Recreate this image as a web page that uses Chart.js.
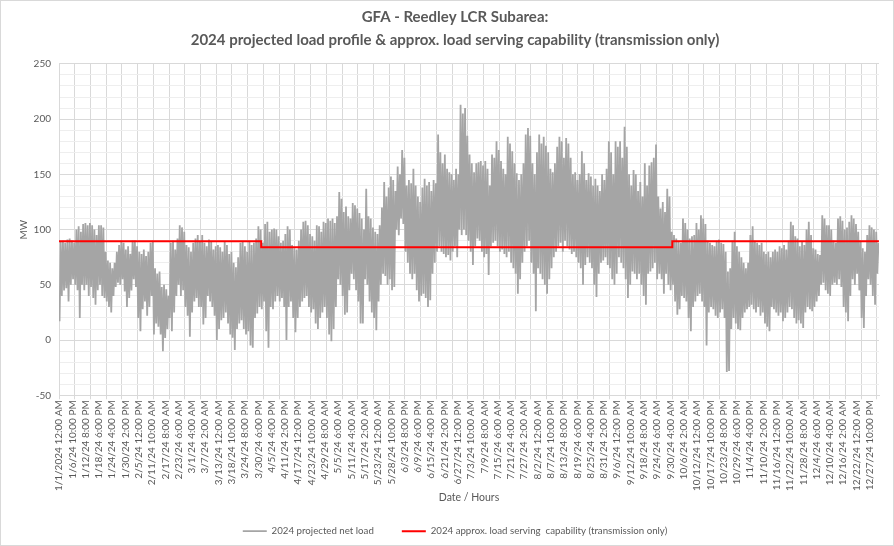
<!DOCTYPE html>
<html>
<head>
<meta charset="utf-8">
<script src="https://cdn.jsdelivr.net/npm/chart.js@4.4.1/dist/chart.umd.min.js"></script>
<style>
  html, body { margin: 0; padding: 0; background: #fff; }
  #wrap { width: 894px; height: 546px; position: relative; }
</style>
</head>
<body>
<div id="wrap"><canvas id="grafico"></canvas></div>
<script>
// x tick labels, one every 142 hours
const tickLabels = [
  "1/1/2024 12:00 AM", "1/6/24 10:00 PM", "1/12/24 8:00 PM", "1/18/24 6:00 PM", "1/24/24 4:00 PM",
  "1/30/24 2:00 PM", "2/5/24 12:00 PM", "2/11/24 10:00 AM", "2/17/24 8:00 AM", "2/23/24 6:00 AM",
  "3/1/24 4:00 AM", "3/7/24 2:00 AM", "3/13/24 12:00 AM", "3/18/24 10:00 PM", "3/24/24 8:00 PM",
  "3/30/24 6:00 PM", "4/5/24 4:00 PM", "4/11/24 2:00 PM", "4/17/24 12:00 PM", "4/23/24 10:00 AM",
  "4/29/24 8:00 AM", "5/5/24 6:00 AM", "5/11/24 4:00 AM", "5/17/24 2:00 AM", "5/23/24 12:00 AM",
  "5/28/24 10:00 PM", "6/3/24 8:00 PM", "6/9/24 6:00 PM", "6/15/24 4:00 PM", "6/21/24 2:00 PM",
  "6/27/24 12:00 PM", "7/3/24 10:00 AM", "7/9/24 8:00 AM", "7/15/24 6:00 AM", "7/21/24 4:00 AM",
  "7/27/24 2:00 AM", "8/2/24 12:00 AM", "8/7/24 10:00 PM", "8/13/24 8:00 PM", "8/19/24 6:00 PM",
  "8/25/24 4:00 PM", "8/31/24 2:00 PM", "9/6/24 12:00 PM", "9/12/24 10:00 AM", "9/18/24 8:00 AM",
  "9/24/24 6:00 AM", "9/30/24 4:00 AM", "10/6/24 2:00 AM", "10/12/24 12:00 AM", "10/17/24 10:00 PM",
  "10/23/24 8:00 PM", "10/29/24 6:00 PM", "11/4/24 4:00 PM", "11/10/24 2:00 PM", "11/16/24 12:00 PM",
  "11/22/24 10:00 AM", "11/28/24 8:00 AM", "12/4/24 6:00 AM", "12/10/24 4:00 AM", "12/16/24 2:00 AM",
  "12/22/24 12:00 AM", "12/27/24 10:00 PM"
];

// projected net load, daily high and low (MW)
const dailyPeakMW = [
  89, 90, 88, 91, 92, 90, 88, 100, 103, 98,
  105, 106, 104, 106, 104, 100, 95, 104, 104, 102,
  80, 72, 70, 65, 70, 80, 86, 90, 88, 82,
  85, 78, 90, 90, 85, 80, 78, 82, 76, 80,
  88, 90, 65, 60, 62, 48, 50, 46, 40, 88,
  90, 82, 92, 104, 102, 98, 86, 84, 80, 88,
  92, 95, 90, 95, 88, 85, 91, 89, 82, 85,
  86, 84, 80, 89, 86, 78, 80, 70, 66, 75,
  88, 89, 85, 80, 89, 86, 88, 92, 103, 100,
  88, 105, 107, 98, 100, 101, 100, 94, 88, 90,
  96, 103, 100, 86, 83, 82, 90, 100, 107, 108,
  104, 96, 94, 90, 104, 103, 98, 107, 106, 110,
  108, 110, 106, 112, 134, 128, 116, 121, 112, 110,
  124, 122, 119, 115, 110, 100, 137, 112, 110, 102,
  98, 96, 104, 120, 143, 130, 138, 148, 145, 135,
  157, 150, 172, 165, 140, 145, 142, 155, 140, 130,
  125, 138, 146, 140, 143, 135, 145, 142, 186, 170,
  160, 168, 155, 152, 150, 145, 155, 150, 213, 205,
  210, 185, 168, 160, 152, 160, 161, 162, 158, 162,
  155, 140, 168, 165, 180, 172, 162, 155, 150, 184,
  178, 171, 160, 151, 145, 150, 160, 186, 192, 185,
  160, 150, 170, 186, 178, 184, 176, 170, 155, 152,
  160, 175, 184, 180, 165, 183, 178, 165, 150, 152,
  145, 150, 171, 160, 145, 151, 148, 140, 146, 140,
  135, 150, 145, 155, 180, 170, 150, 180, 175, 180,
  165, 193, 175, 150, 140, 154, 150, 135, 143, 130,
  160, 140, 158, 161, 165, 177, 130, 119, 125, 116,
  137, 130, 98, 95, 92, 89, 88, 110, 106, 100,
  92, 94, 95, 106, 100, 113, 110, 105, 90, 88,
  86, 85, 90, 91, 88, 87, 80, 62, 65, 90,
  98, 85, 80, 75, 70, 65, 70, 95, 103, 90,
  88, 86, 88, 80, 78, 80, 75, 80, 82, 80,
  85, 83, 86, 82, 90, 107, 104, 94, 92, 85,
  89, 86, 100, 107, 95, 83, 82, 78, 77, 113,
  110, 104, 104, 100, 90, 88, 110, 112, 108, 100,
  102, 107, 113, 110, 105, 98, 90, 83, 80, 95,
  104, 102, 100, 98, 88
];
const dailyLowMW = [
  17, 40, 45, 47, 35, 50, 55, 50, 45, 20,
  50, 45, 50, 40, 48, 38, 32, 45, 50, 40,
  38, 35, 30, 25, 40, 48, 52, 50, 55, 44,
  30, 38, 45, 55, 48, 20, 8, 28, 35, 22,
  30, 40, 5, 15, 12, 5, -10, 2, 10, 20,
  8, 25, 40, 50, 40, 45, 30, 22, 3, 25,
  35, 38, 30, 30, 14, 20, 40, 35, 30, 22,
  0, 10, 18, 20, 25, 15, 5, 2, -9, 10,
  15, 18, 10, 5, 8, -5, -7, 20, 24, 30,
  28, 35, 8, -7, 30, 28, 35, 40, 35, 38,
  30, 0, 30, 35, 20, 7, 20, 30, 35, 38,
  40, 30, 25, 28, 15, 10, 20, 25, 30, 20,
  5, -1, 10, 30, 55, 50, 40, 23, 25, 45,
  60, 55, 45, 35, 15, 15, 55, 50, 35, 25,
  20, 9, 35, 50, 60, 58, 50, 55, 45, 48,
  100, 95, 110, 105, 80, 70, 60, 55, 60, 45,
  35, 40, 42, 38, 30, 36, 60, 70, 80, 85,
  80, 78, 75, 77, 72, 80, 85, 75, 100, 95,
  100, 95, 90, 80, 68, 85, 92, 90, 80, 75,
  78, 59, 85, 88, 90, 85, 80, 82, 78, 75,
  80, 70, 65, 60, 42, 55, 70, 80, 85, 90,
  70, 60, 26, 65, 60, 55, 50, 42, 55, 65,
  75, 80, 85, 88, 80, 90, 85, 82, 78, 80,
  75, 70, 65, 50, 68, 75, 70, 65, 50, 39,
  60, 70, 72, 75, 68, 65, 55, 50, 60, 75,
  70, 65, 55, 38, 50, 62, 60, 55, 60, 50,
  40, 32, 60, 62, 65, 70, 55, 60, 55, 42,
  60, 50, 45, 50, 35, 23, 28, 40, 38, 35,
  20, 8, 30, 35, 40, 42, 35, 30, -5, 25,
  30, 28, 22, 20, 25, 28, 20, -29, -28, 10,
  20, 15, 10, 9, 20, 25, 28, 30, 32, 28,
  25, 30, 22, 25, 15, 12, 8, 30, 28, 25,
  22, 25, 17, 20, 25, 30, 28, 20, 15, 18,
  15, 11, 25, 30, 28, 26, 30, 35, 40, 50,
  52, 45, 42, 40, 50, 52, 50, 55, 48, 30,
  25, 17, 40, 55, 50, 60, 45, 20, 11, 40,
  55, 50, 40, 32, 60
];

// approx. load serving capability (transmission only)
const capabilityHours = [0, 2160, 2160, 6552, 6552, 8759];
const capabilityMW = [89.4, 89.4, 84, 84, 89.4, 89.4];

const HOURS = 8760;
const LABEL_STEP = 142;
const GRID_STEP = 168;
const LOW_HOUR = 6;
const PEAK_HOUR = 18;

document.addEventListener("DOMContentLoaded", function () {
  const loadPoints = [];
  dailyPeakMW.forEach(function (peak, d) {
    loadPoints.push({ x: d * 24 + LOW_HOUR, y: dailyLowMW[d] });
    loadPoints.push({ x: d * 24 + PEAK_HOUR, y: peak });
  });
  const capPoints = capabilityHours.map(function (h, i) {
    return { x: h, y: capabilityMW[i] };
  });

  const font = "Lato, 'Liberation Sans', sans-serif";
  const textColor = "#595959";

  // thin frame around the whole chart
  const frame = {
    id: "frame",
    afterDraw(chart) {
      const c = chart.ctx;
      c.save();
      c.strokeStyle = "#d9d9d9";
      c.lineWidth = 1;
      c.strokeRect(0.5, 0.5, chart.width - 1, chart.height - 1);
      c.restore();
    },
  };

  const ctx = document.getElementById("grafico").getContext("2d");
  new Chart(ctx, {
    type: "line",
    data: {
      // red first so it is painted on top; legend is reversed
      datasets: [
        {
          label: "2024 approx. load serving  capability (transmission only)",
          data: capPoints,
          borderColor: "#ff0000",
          backgroundColor: "#ff0000",
          borderWidth: 2,
          pointRadius: 0,
        },
        {
          label: "2024 projected net load",
          data: loadPoints,
          borderColor: "#a5a5a5",
          backgroundColor: "#a5a5a5",
          borderWidth: 1.8,
          pointRadius: 0,
        },
      ],
    },
    options: {
      responsive: true,
      maintainAspectRatio: false,
      animation: false,
      devicePixelRatio: 1,
      layout: { padding: { left: 16, right: 0, top: 0, bottom: 0 } },
      plugins: {
        title: {
          display: true,
          text: [
            "GFA - Reedley LCR Subarea:",
            "2024 projected load profile & approx. load serving capability (transmission only)",
          ],
          color: textColor,
          font: { family: font, size: 15, weight: "bold", lineHeight: 1.53 },
          padding: { top: 6, bottom: 12 },
        },
        legend: {
          position: "bottom",
          reverse: true,
          labels: {
            color: textColor,
            font: { family: font, size: 9.7 },
            boxWidth: 24,
            boxHeight: 0,
            padding: 28,
          },
        },
        tooltip: { enabled: false },
      },
      scales: {
        x: {
          type: "linear",
          min: 0,
          max: HOURS,
          afterBuildTicks(scale) {
            const vals = new Set();
            tickLabels.forEach((_, i) => vals.add(i * LABEL_STEP));
            for (let h = 0; h <= HOURS; h += GRID_STEP) vals.add(h);
            scale.ticks = Array.from(vals).sort((a, b) => a - b).map((v) => ({ value: v }));
          },
          afterFit(scale) {
            scale.height = 103;
          },
          ticks: {
            autoSkip: false,
            minRotation: 90,
            maxRotation: 90,
            padding: 1,
            color: textColor,
            font: { family: font, size: 10 },
            callback: (v) => (v % LABEL_STEP === 0 ? tickLabels[v / LABEL_STEP] || "" : ""),
          },
          grid: {
            color: (c) => (c.tick && c.tick.value % GRID_STEP === 0 ? "#d9d9d9" : "rgba(0,0,0,0)"),
            tickLength: 4,
          },
          border: { color: "#d9d9d9" },
          title: {
            display: true,
            text: "Date / Hours",
            color: textColor,
            font: { family: font, size: 10.5 },
            padding: { top: 0, bottom: -6 },
          },
        },
        y: {
          min: -50,
          max: 250,
          afterFit(scale) {
            scale.width = 43;
          },
          ticks: {
            stepSize: 10,
            autoSkip: false,
            padding: 8,
            color: textColor,
            font: { family: font, size: 10 },
            callback: (v) => (v % 50 === 0 ? v : ""),
          },
          grid: {
            drawTicks: false,
            color: (c) => (c.tick && c.tick.value % 50 === 0 ? "#d9d9d9" : "#eeeeee"),
          },
          border: { color: "#d9d9d9" },
          title: {
            display: true,
            text: "MW",
            color: textColor,
            font: { family: font, size: 10 },
            padding: { top: 2, bottom: 2 },
          },
        },
        yr: {
          position: "right",
          display: true,
          afterFit(scale) {
            scale.width = 15;
          },
          ticks: { display: false },
          grid: { display: false, drawTicks: false },
          border: { display: false },
        },
      },
    },
    plugins: [frame],
  });
});
</script>
</body>
</html>
